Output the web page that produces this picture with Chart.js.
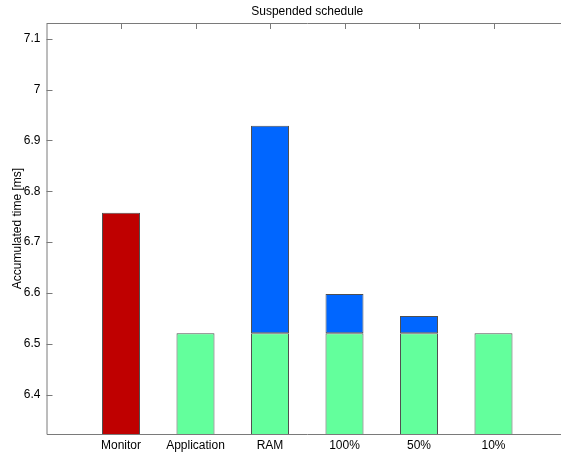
<!DOCTYPE html>
<html>
<head>
<meta charset="utf-8">
<script src="https://cdn.jsdelivr.net/npm/chart.js@4/dist/chart.umd.min.js"></script>
<style>
  html, body { margin: 0; padding: 0; background: #fff; overflow: hidden; }
  #wrap { position: relative; width: 572px; height: 453px; }
</style>
</head>
<body>
<div id="wrap"><canvas id="c"></canvas></div>
<script>
// Categories along the x axis
const categories = ['Monitor', 'Application', 'RAM', '100%', '50%', '10%'];
// Monitor total (ms)
const monitorTime = [6.758, null, null, null, null, null];
// Application base time (ms)
const baseTime = [null, 6.521, 6.521, 6.521, 6.521, 6.521];
// Extra time on top of the base (ms)
const extraTime = [null, null, 0.408, 0.077, 0.034, null];
// Y tick values
const yTicks = [6.4, 6.5, 6.6, 6.7, 6.8, 6.9, 7.0, 7.1];
const yMin = 6.3227, yMax = 7.131;

// x runs from 0 to n+1 with the bars at 1..n, so pad an empty slot on each side
const pad = arr => [null, ...arr, null];
const xLabels = ['', ...categories, ''];

const FONT = '"Liberation Sans", Arial, sans-serif';
const EDGE = '#505050';
const AXIS = '#7a7a7a';

// Axes frame, inward tick marks and centred title
const framePlugin = {
  id: 'frame',
  afterDraw(chart) {
    const { ctx, chartArea: a, scales } = chart;
    ctx.save();
    ctx.strokeStyle = AXIS;
    ctx.lineWidth = 1;
    ctx.beginPath();
    ctx.moveTo(a.left + 0.5, a.top + 0.5);
    ctx.lineTo(a.right, a.top + 0.5);
    ctx.moveTo(a.left + 0.5, a.top);
    ctx.lineTo(a.left + 0.5, a.bottom + 0.5);
    ctx.lineTo(a.right, a.bottom + 0.5);
    // y ticks pointing inward
    yTicks.forEach(v => {
      const y = Math.round(scales.y.getPixelForValue(v)) + 0.5;
      ctx.moveTo(a.left, y);
      ctx.lineTo(a.left + 6, y);
    });
    // x ticks on the top edge, pointing inward
    categories.forEach((c, i) => {
      const x = Math.round(scales.x.getPixelForValue(i + 1)) + 0.5;
      ctx.moveTo(x, a.top);
      ctx.lineTo(x, a.top + 6);
    });
    ctx.stroke();
    ctx.fillStyle = '#000';
    ctx.font = '12px ' + FONT;
    ctx.textAlign = 'center';
    ctx.textBaseline = 'middle';
    ctx.fillText('Suspended schedule', (a.left + a.right) / 2, 12);
    ctx.restore();
  }
};

new Chart(document.getElementById('c'), {
  type: 'bar',
  data: {
    labels: xLabels,
    datasets: [
      { label: 'Monitor', data: pad(monitorTime), backgroundColor: '#BF0000', borderColor: EDGE, borderWidth: 1, stack: 's' },
      { label: 'Base', data: pad(baseTime), backgroundColor: '#63FF9C', borderColor: EDGE, borderWidth: 1, stack: 's' },
      { label: 'Extra', data: pad(extraTime), backgroundColor: '#0066FF', borderColor: EDGE, borderWidth: 1, stack: 's' }
    ]
  },
  options: {
    responsive: true,
    maintainAspectRatio: false,
    animation: false,
    layout: { padding: { top: 23, right: 3, left: 0, bottom: 0 } },
    plugins: { legend: { display: false }, tooltip: { enabled: false }, title: { display: false } },
    datasets: { bar: { categoryPercentage: 1, barPercentage: 0.51, borderSkipped: false } },
    scales: {
      x: {
        stacked: true,
        offset: false,
        grid: { display: false, drawTicks: false, offset: false },
        border: { display: false },
        ticks: { color: '#000', font: { family: FONT, size: 12 }, padding: 4, maxRotation: 0, autoSkip: false },
        afterFit: s => { s.height = 19; }
      },
      y: {
        stacked: true,
        min: yMin,
        max: yMax,
        grid: { display: false, drawTicks: false },
        border: { display: false },
        afterBuildTicks: s => { s.ticks = yTicks.map(v => ({ value: v })); },
        ticks: {
          color: '#000',
          font: { family: FONT, size: 12 },
          padding: 6,
          callback: v => String(parseFloat(Number(v).toFixed(2)))
        },
        title: { display: true, text: 'Accumulated time [ms]', color: '#000', font: { family: FONT, size: 12 }, padding: { top: 10, bottom: 0 } },
        afterFit: s => { s.width = 46.5; }
      }
    }
  },
  plugins: [framePlugin]
});
</script>
</body>
</html>
